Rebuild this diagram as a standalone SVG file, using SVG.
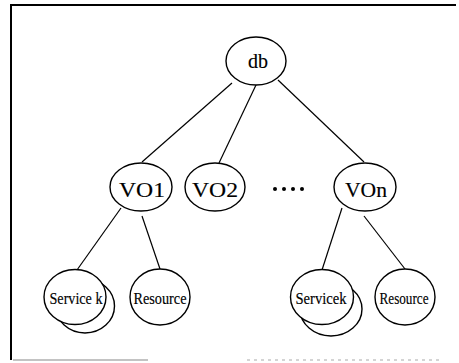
<svg xmlns="http://www.w3.org/2000/svg" width="459" height="363" viewBox="0 0 459 363">
  <style>
    .node { fill: #fff; stroke: #000; stroke-width: 1.4; }
    .edge { stroke: #000; stroke-width: 1.2; fill: none; }
    .lbl { font-family: "Liberation Serif", "Times New Roman", serif; fill: #000; stroke: #000; stroke-width: 0.15; text-anchor: middle; }
    .big { font-size: 20px; }
    .small { font-size: 16px; }
  </style>
  <rect x="0" y="0" width="459" height="363" fill="#fff"/>

  <!-- frame -->
  <g id="frame">
    <line x1="11" y1="5" x2="456" y2="5" stroke="#000" stroke-width="1.8"/>
    <line x1="11" y1="4" x2="11" y2="360" stroke="#000" stroke-width="2"/>
    <line x1="13" y1="360" x2="148" y2="360" stroke="#888" stroke-width="1.2"/>
    <line x1="247" y1="360" x2="443" y2="360" stroke="#aaa" stroke-width="1.2" stroke-dasharray="3 4"/>
  </g>

  <!-- connectors -->
  <g id="edges" class="edge">
    <line x1="232" y1="83" x2="142" y2="162"/>
    <line x1="256" y1="85" x2="219" y2="163"/>
    <line x1="278" y1="80" x2="364" y2="162"/>
    <line x1="121" y1="208" x2="77" y2="270"/>
    <line x1="142" y1="216" x2="160" y2="269"/>
    <line x1="342" y1="208" x2="322" y2="270"/>
    <line x1="364" y1="216" x2="405" y2="269"/>
  </g>

  <g id="db">
    <ellipse class="node" cx="256" cy="61" rx="30" ry="24"/>
    <text class="lbl big" x="258" y="68">db</text>
  </g>

  <g id="vo1">
    <ellipse class="node" cx="141" cy="187" rx="31" ry="24"/>
    <text class="lbl big" x="142" y="197" textLength="46" lengthAdjust="spacingAndGlyphs">VO1</text>
  </g>

  <g id="vo2">
    <ellipse class="node" cx="215" cy="187" rx="30" ry="24"/>
    <text class="lbl big" x="215" y="197" textLength="46" lengthAdjust="spacingAndGlyphs">VO2</text>
  </g>

  <g id="ellipsis">
    <circle cx="275" cy="189" r="2"/>
    <circle cx="284" cy="189" r="2"/>
    <circle cx="293" cy="189" r="2"/>
    <circle cx="302" cy="189" r="2"/>
  </g>

  <g id="von">
    <ellipse class="node" cx="365" cy="187" rx="31" ry="24"/>
    <text class="lbl big" x="366" y="197" textLength="42" lengthAdjust="spacingAndGlyphs">VOn</text>
  </g>

  <g id="service-k-1">
    <ellipse class="node" cx="85" cy="306" rx="29.5" ry="27"/>
    <ellipse class="node" cx="75" cy="297" rx="31" ry="27.5"/>
    <text class="lbl small" x="76" y="304" textLength="53" lengthAdjust="spacingAndGlyphs">Service k</text>
  </g>

  <g id="resource-1">
    <ellipse class="node" cx="160" cy="297" rx="30" ry="28"/>
    <text class="lbl small" x="160" y="304" textLength="53" lengthAdjust="spacingAndGlyphs">Resource</text>
  </g>

  <g id="service-k-n">
    <ellipse class="node" cx="331" cy="309" rx="31" ry="27"/>
    <ellipse class="node" cx="322" cy="297" rx="31.5" ry="27.5"/>
    <text class="lbl small" x="321" y="304" textLength="51" lengthAdjust="spacingAndGlyphs">Servicek</text>
  </g>

  <g id="resource-n">
    <ellipse class="node" cx="405" cy="297" rx="30" ry="28"/>
    <text class="lbl small" x="404" y="304" textLength="49" lengthAdjust="spacingAndGlyphs">Resource</text>
  </g>
</svg>
